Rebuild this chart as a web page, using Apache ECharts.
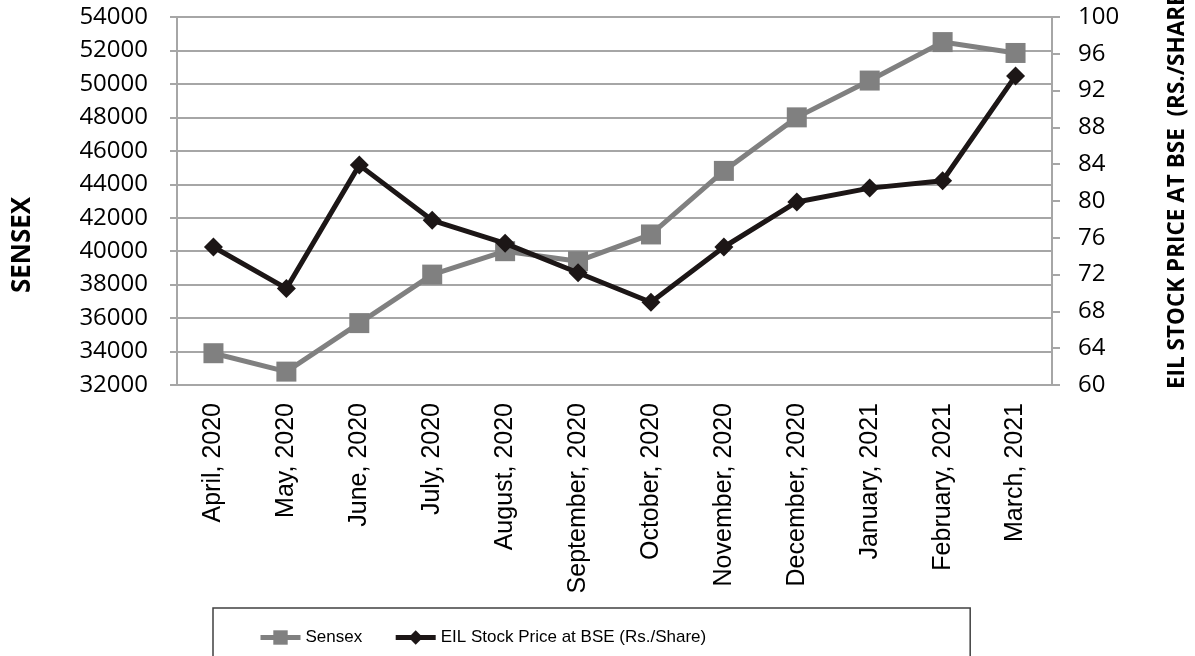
<!DOCTYPE html>
<html>
<head>
<meta charset="utf-8">
<script src="https://cdn.jsdelivr.net/npm/echarts@6/dist/echarts.min.js"></script>
<style>html,body{margin:0;padding:0;background:#fff;}#c{width:1195px;height:656px;}</style>
</head>
<body>
<div id="c"></div>
<script>
var categories = ["April, 2020","May, 2020","June, 2020","July, 2020","August, 2020","September, 2020","October, 2020","November, 2020","December, 2020","January, 2021","February, 2021","March, 2021"];
var sensex = [33900, 32800, 35700, 38600, 40000, 39400, 41000, 44800, 48000, 50200, 52500, 51850];
var eilPrice = [75.0, 70.5, 83.9, 77.9, 75.4, 72.2, 69.0, 75.0, 79.9, 81.4, 82.2, 93.6];
var leftTicks = {min: 32000, max: 54000, interval: 2000};
var rightTicks = {min: 60, max: 100, interval: 4};

var chart = echarts.init(document.getElementById('c'), null, {renderer: 'canvas'});
var gridGray = '#a6a6a6';
chart.setOption({
  backgroundColor: '#fff',
  animation: false,
  grid: {left: 177, right: 143, top: 17, bottom: 271, containLabel: false},
  legend: {
    left: 213, top: 608,
    padding: [21, 264, 15, 45],
    borderColor: '#404040', borderWidth: 1.5,
    itemWidth: 40, itemHeight: 18, itemGap: 31,
    lineStyle: {width: 5},
    textStyle: {fontFamily: 'Liberation Sans', fontSize: 17, color: '#000'},
    data: ['Sensex', 'EIL Stock Price at BSE (Rs./Share)']
  },
  xAxis: {
    type: 'category', data: categories, boundaryGap: true,
    axisLine: {lineStyle: {color: gridGray, width: 2}},
    axisTick: {alignWithLabel: true, length: 7, lineStyle: {color: gridGray, width: 2}},
    axisLabel: {rotate: 90, margin: 18, fontFamily: 'Liberation Sans', fontSize: 25, color: '#000', interval: 0}
  },
  yAxis: [{
    type: 'value', min: leftTicks.min, max: leftTicks.max, interval: leftTicks.interval,
    axisLine: {show: true, lineStyle: {color: gridGray, width: 2}},
    axisTick: {show: true, length: 7, lineStyle: {color: gridGray, width: 2}},
    splitLine: {show: true, lineStyle: {color: gridGray, width: 2}},
    axisLabel: {margin: 29, fontFamily: 'Open Sans', fontSize: 24, color: '#000', formatter: function (v) { return String(v); }}
  }, {
    type: 'value', position: 'right', min: rightTicks.min, max: rightTicks.max, interval: rightTicks.interval,
    axisLine: {show: true, lineStyle: {color: gridGray, width: 2}},
    axisTick: {show: true, length: 8, lineStyle: {color: gridGray, width: 2}},
    splitLine: {show: false},
    axisLabel: {margin: 26, fontFamily: 'Open Sans', fontSize: 24, color: '#000', formatter: function (v) { return String(v); }}
  }],
  graphic: [{
    type: 'text', x: 23, y: 245, rotation: Math.PI / 2,
    style: {text: 'SENSEX', fontFamily: 'Open Sans', fontWeight: 'bold', fontSize: 26, fill: '#000', textAlign: 'center', textVerticalAlign: 'middle'}
  }, {
    type: 'text', x: 1178, y: 389, rotation: Math.PI / 2,
    style: {text: 'EIL STOCK PRICE AT BSE  (RS./SHARE)', fontFamily: 'Open Sans', fontWeight: 'bold', fontSize: 22.5, fill: '#000', textAlign: 'left', textVerticalAlign: 'middle'}
  }],
  series: [{
    name: 'Sensex', type: 'line', yAxisIndex: 0, data: sensex,
    symbol: 'rect', symbolSize: 20, z: 2,
    lineStyle: {color: '#808080', width: 5},
    itemStyle: {color: '#808080'}
  }, {
    name: 'EIL Stock Price at BSE (Rs./Share)', type: 'line', yAxisIndex: 1, data: eilPrice,
    symbol: 'diamond', symbolSize: 19, z: 3,
    lineStyle: {color: '#1c1616', width: 5},
    itemStyle: {color: '#1c1616'}
  }]
});
</script>
</body>
</html>
